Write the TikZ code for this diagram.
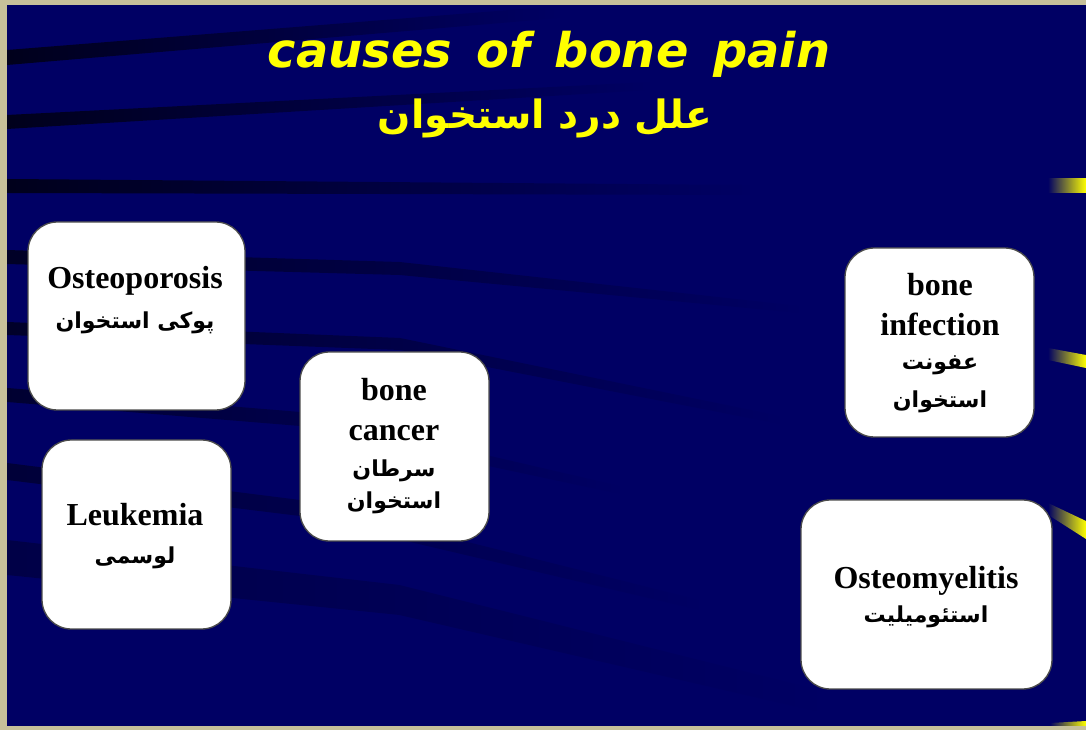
\documentclass[tikz,border=0pt]{standalone}
\usepackage{fontspec}
\setmainfont{Liberation Serif}[BoldFont={Liberation Serif Bold}]
\newfontfamily\fa[Script=Arabic]{DejaVu Sans}
\newfontfamily\ttl{DejaVu Sans}
\usetikzlibrary{fadings}
\TeXXeTstate=1
\newdimen\px \px=0.75pt
\definecolor{beige}{HTML}{C6C09A}
\definecolor{navy}{HTML}{000064}
\definecolor{stripe}{HTML}{00001C}
\definecolor{ylw}{HTML}{FFFF00}
\newcommand\fat[1]{{\fa\bfseries\fontsize{16.5}{30}\selectfont\beginR #1\endR}}
\tikzset{
  box/.style={draw=black!70, line width=1pt, fill=white, rounded corners=22pt, inner sep=0pt},
  lbl/.style={align=center, inner sep=0pt, text=black, font=\bfseries\fontsize{24}{30}\selectfont},
  dark/.style={fill=stripe, path fading=east},
  ymark/.style={fill=ylw, path fading=west},
}
\begin{document}
\begin{tikzpicture}[x=0.75pt,y=-0.75pt]
\useasboundingbox (0,0) rectangle (1086,730);
\fill[beige] (0,0) rectangle (1086,730);
\fill[navy] (7,5) rectangle (1086,726);
\begin{scope}
\clip (7,5) rectangle (1086,726);
% dark swooshes
\fill[dark] (7,50) -- (560,6) -- (560,18) -- (7,65) -- cycle;
\fill[dark] (7,115) -- (650,82) -- (650,90) -- (7,129) -- cycle;
\fill[dark] (7,179) -- (750,185) -- (750,195) -- (7,193) -- cycle;
\fill[dark, opacity=0.85] (7,250) -- (400,262) -- (800,306) -- (800,313) -- (400,275) -- (7,264) -- cycle;
\fill[dark, opacity=0.8] (7,322) -- (400,338) -- (780,416) -- (780,424) -- (400,350) -- (7,335) -- cycle;
\fill[dark, opacity=0.7] (7,388) -- (300,412) -- (620,486) -- (620,494) -- (300,426) -- (7,402) -- cycle;
\fill[dark, opacity=0.6] (7,463) -- (300,500) -- (700,600) -- (700,610) -- (300,516) -- (7,480) -- cycle;
\fill[dark, opacity=0.4] (7,540) -- (400,585) -- (820,690) -- (820,712) -- (400,615) -- (7,575) -- cycle;
% yellow swoosh ends
\fill[ymark] (1048,178) -- (1086,178) -- (1086,193) -- (1048,193) -- cycle;
\fill[ymark] (1048,348) -- (1086,355) -- (1086,368) -- (1048,360) -- cycle;
\fill[ymark] (1048,503) -- (1086,521) -- (1086,539) -- (1050,516) -- cycle;
\fill[ymark] (1050,723) -- (1086,721) -- (1086,726) -- (1050,726) -- cycle;
\end{scope}
% title
\node[text=ylw, inner sep=0pt] (title) at (549,54)
  {\resizebox{562\px}{!}{\ttl\bfseries\itshape causes\ \,of\ \,bone\ \,pain}};
\node[text=ylw, inner sep=0pt] (subtitle) at (545,118)
  {\resizebox{334\px}{!}{\fa\bfseries\beginR علل درد استخوان\endR}};
% boxes
\node[box, minimum width=217\px, minimum height=188\px] (b1) at (136.5,316) {};
\node[box, minimum width=189\px, minimum height=189\px] (b2) at (136.5,534.5) {};
\node[box, minimum width=189\px, minimum height=189\px] (b3) at (394.5,446.5) {};
\node[box, minimum width=189\px, minimum height=189\px] (b4) at (939.5,342.5) {};
\node[box, minimum width=251\px, minimum height=189\px] (b5) at (926.5,594.5) {};
% texts
\node[lbl] (t1) at (135,300) {Osteoporosis\\ \fat{پوکی استخوان}};
\node[lbl] (t2) at (135,536) {Leukemia\\[-1.5pt] \fat{لوسمی}};
\node[lbl] (t3) at (394,446) {bone\\ cancer\\[-2.5pt] \fat{سرطان}\\[-6pt] \fat{استخوان}};
\node[lbl] (t4) at (940,343) {bone\\ infection\\[-4pt] \fat{عفونت}\\[-1.5pt] \fat{استخوان}};
\node[lbl] (t5) at (926,597) {Osteomyelitis\\[-4pt] \fat{استئومیلیت}};
\end{tikzpicture}
\end{document}
